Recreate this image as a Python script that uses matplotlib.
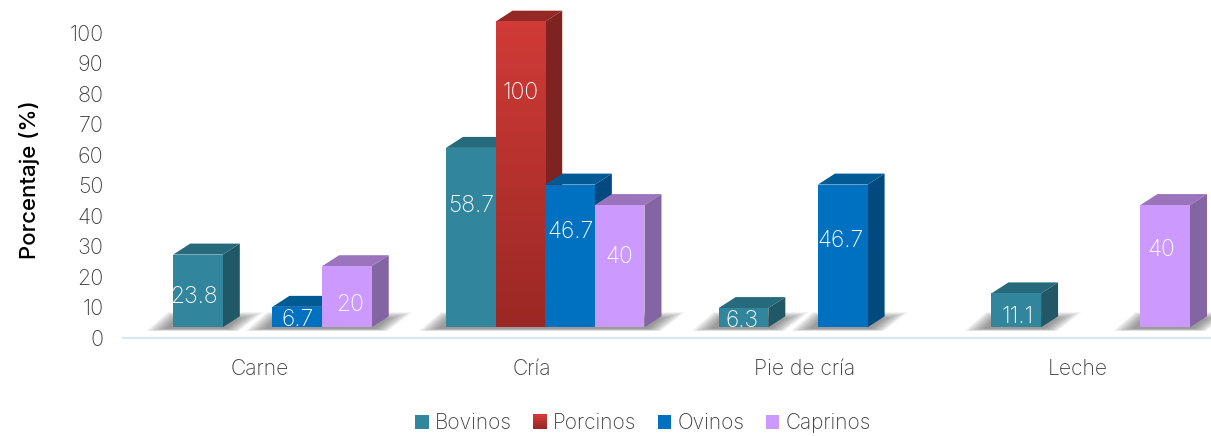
#!/usr/bin/env python3
# encoding: utf-8
import numpy as np
import matplotlib
matplotlib.use('Agg')
import matplotlib.pyplot as plt
from matplotlib.colors import LinearSegmentedColormap
from matplotlib.legend_handler import HandlerBase
from matplotlib.patches import Polygon, Patch, Rectangle

categories = ['Carne', 'Cría', 'Pie de cría', 'Leche']
series = ['Bovinos', 'Porcinos', 'Ovinos', 'Caprinos']
bovinos = [23.8, 58.7, 6.3, 11.1]
porcinos = [0, 100, 0, 0]
ovinos = [6.7, 46.7, 46.7, 0]
caprinos = [20, 40, 0, 40]
yticks = list(range(0, 101, 10))

front = ['#31859c', '#b8312e', '#0070c0', '#cc99ff']
top = ['#266a7c', '#942824', '#005a94', '#9b74bd']
side = ['#215868', '#7f2320', '#004a80', '#8465a4']

# data labels were placed by hand in the original: height on the axis, then x nudge
label_y = [[13.5, 43.2, 5.6, 6.9], [0, 80.2, 0, 0], [6.0, 34.7, 31.8, 0], [10.9, 26.5, 0, 28.8]]
label_dx = [[-0.015, 0, -0.007, 0.003], [0, 0, 0, 0], [0, 0, -0.007, 0], [0.011, 0, 0, -0.015]]

plt.rcParams['font.family'] = ['Inter', 'DejaVu Sans']
plt.rcParams['font.weight'] = 'light'

fig = plt.figure(figsize=(12.11, 4.36), dpi=100)
ax = fig.add_axes([123 / 1211, 98 / 436, 1088 / 1211, 338 / 436])

bar_w = 0.182
depth_x = 0.0623
depth_y = 3.6
lift = 3.5
scale = 1.002
values = [bovinos, porcinos, ovinos, caprinos]
red_map = LinearSegmentedColormap.from_list('r', ['#d03b37', '#9b2824'])


def shadow(x0, x1):
    # soft grey smear under a run of bars
    n = 20
    for k in range(n):
        s = k / n
        xs = [x0 - 0.10 + 0.08 * s, x0 - 0.02 + 0.03 * s, x1 + 0.15 - 0.10 * s, x1 + 0.06 - 0.05 * s]
        ys = [lift - 1.2 + 0.8 * s, lift + 5 - 2.5 * s, lift + 5 - 2.5 * s, lift - 1.2 + 0.8 * s]
        ax.add_patch(Polygon(list(zip(xs, ys)), closed=True, fc='#555555', ec='none', alpha=0.04, zorder=1))


def bar3d(x0, val, i, z):
    h = val * scale + lift
    x1 = x0 + bar_w
    ax.add_patch(Polygon([(x0, h), (x1, h), (x1 + depth_x, h + depth_y), (x0 + depth_x, h + depth_y)],
                         closed=True, fc=top[i], ec='none', zorder=z))
    ax.add_patch(Polygon([(x1, lift), (x1 + depth_x, lift + depth_y), (x1 + depth_x, h + depth_y), (x1, h)],
                         closed=True, fc=side[i], ec='none', zorder=z))
    if series[i] == 'Porcinos':
        # red bar fades darker towards the base
        grad = np.linspace(0, 1, 64).reshape(-1, 1)
        ax.imshow(grad, cmap=red_map, extent=(x0, x1, lift, h), origin='upper', aspect='auto', zorder=z)
    else:
        ax.add_patch(Polygon([(x0, lift), (x1, lift), (x1, h), (x0, h)], closed=True,
                             fc=front[i], ec='none', zorder=z))


class RedSwatch(HandlerBase):
    def create_artists(self, legend, orig, xd, yd, width, height, fontsize, trans):
        n = 8
        return [Rectangle((-xd, -yd + height * (n - 1 - k) / n), width, height / n + 0.2,
                          fc=red_map(k / (n - 1)), ec='none', transform=trans) for k in range(n)]


for c in range(len(categories)):
    run = None
    for i in range(4):
        x0 = c + (i - 2) * bar_w
        if values[i][c] > 0:
            if run is None:
                run = x0
            end = x0 + bar_w
        if run is not None and (i == 3 or values[i + 1][c] == 0):
            shadow(run, end)
            run = None

z = 3
for c in range(len(categories)):
    for i in range(4):
        if values[i][c] > 0:
            bar3d(c + (i - 2) * bar_w, values[i][c], i, z)
            z += 1
            ax.text(c + (i - 1.5) * bar_w + label_dx[i][c], label_y[i][c], '%g' % values[i][c],
                    color='white', fontsize=16.5, ha='center', va='center', zorder=100)

ax.set_xlim(-0.548, 3.441)
ax.set_ylim(0, 110.8)

for s in ['top', 'right', 'left']:
    ax.spines[s].set_visible(False)
ax.spines['bottom'].set_color('#dce6f2')
ax.spines['bottom'].set_linewidth(1.6)

ax.set_yticks(yticks)
ax.set_yticklabels([str(t) for t in yticks], fontsize=15.5, color='#404040')
ax.set_xticks([c - 0.048 for c in range(len(categories))])
ax.set_xticklabels(categories, fontsize=15.2, color='#404040')
ax.tick_params(axis='both', length=0)
ax.tick_params(axis='y', pad=14)
ax.tick_params(axis='x', pad=15)

fig.text(30 / 1211, 1 - 180 / 436, 'Porcentaje (%)', rotation=90, fontsize=16, fontweight='medium',
         color='black', ha='center', va='center')

handles = [Patch(fc=front[i], ec='none') for i in range(4)]
fig.legend(handles, series, loc='center', bbox_to_anchor=(643 / 1211, 1 - 423 / 436), ncol=4, frameon=False,
           fontsize=15, labelcolor='#404040', handlelength=0.65, handleheight=0.65, handletextpad=0.3,
           columnspacing=1.02, handler_map={handles[1]: RedSwatch()})

fig.savefig('out.png', dpi=100)
